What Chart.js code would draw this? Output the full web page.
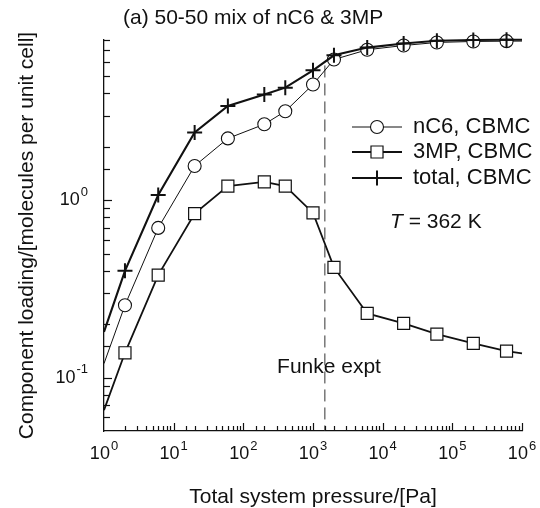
<!DOCTYPE html>
<html>
<head>
<meta charset="utf-8">
<script src="https://cdn.jsdelivr.net/npm/chart.js@4.4.1/dist/chart.umd.min.js"></script>
<style>
  html, body { margin: 0; padding: 0; background: #fff; }
  #wrap { width: 540px; height: 508px; }
</style>
</head>
<body>
<div id="wrap"><canvas id="chart" width="540" height="508"></canvas></div>
<script>
// total system pressure [Pa]; first and last entries only carry the line to the axis ends
const pressures = [1, 2, 6, 20, 60, 200, 400, 1000, 2000, 6000, 2e4, 6e4, 2e5, 6e5, 1e6];
const nC6Loading = [0.120, 0.256, 0.698, 1.56, 2.23, 2.68, 3.17, 4.49, 6.21, 7.05, 7.45, 7.75, 7.85, 7.88, 7.89];
const mp3Loading = [0.0656, 0.138, 0.378, 0.841, 1.20, 1.27, 1.20, 0.848, 0.418, 0.230, 0.202, 0.176, 0.156, 0.141, 0.137];
const totalLoading = [0.181, 0.40, 1.07, 2.41, 3.40, 3.94, 4.31, 5.40, 6.56, 7.25, 7.65, 7.92, 8.0, 8.02, 8.03];

const funkePressure = 1480;
const funkeTop = 5.75;

const xTickExps = [0, 1, 2, 3, 4, 5, 6];
const yTickExps = [-1, 0];
const legendNames = ['nC6, CBMC', '3MP, CBMC', 'total, CBMC'];

const FONT = '"Liberation Sans", Arial, Helvetica, sans-serif';
const last = pressures.length - 1;

function toXY(vals) {
  return pressures.map((p, i) => ({ x: p, y: vals[i] }));
}
function markerRadius(r) {
  return ctx => (ctx.dataIndex === 0 || ctx.dataIndex === last) ? 0 : r;
}

const series = [
  { name: legendNames[2], data: totalLoading, style: 'cross', r: 7.5, lw: 2.1, pw: 2, order: 0 },
  { name: legendNames[0], data: nC6Loading, style: 'circle', r: 6.5, lw: 1, pw: 1.1, order: 1 },
  { name: legendNames[1], data: mp3Loading, style: 'rect', r: 8.5, lw: 1.8, pw: 1.2, order: 2 }
];

const datasets = series.map(s => ({
  label: s.name,
  data: toXY(s.data),
  showLine: true,
  borderColor: '#111',
  borderWidth: s.lw,
  backgroundColor: '#fff',
  pointStyle: s.style,
  pointRadius: markerRadius(s.r),
  pointBorderWidth: s.pw,
  pointBorderColor: '#111',
  pointBackgroundColor: '#fff',
  tension: 0,
  clip: false,
  order: s.order
}));

datasets.push({
  label: 'Funke expt',
  data: [{ x: funkePressure, y: funkeTop }, { x: funkePressure, y: 0.05 }],
  showLine: true,
  borderColor: '#333',
  borderWidth: 1,
  borderDash: [12, 6],
  pointRadius: 0,
  order: 5
});

function drawPow(ctx, x, y, exp, align) {
  ctx.font = '18px ' + FONT;
  const base = '10';
  const wb = ctx.measureText(base).width;
  ctx.font = '13px ' + FONT;
  const e = String(exp);
  const we = ctx.measureText(e).width;
  const w = wb + we + 1;
  let x0 = align === 'right' ? x - w : x - w / 2;
  ctx.textAlign = 'left';
  ctx.textBaseline = 'middle';
  ctx.font = '18px ' + FONT;
  ctx.fillText(base, x0, y);
  ctx.font = '13px ' + FONT;
  ctx.fillText(e, x0 + wb + 1, y - 8);
}

const paperPlugin = {
  id: 'paper',
  afterDraw(chart) {
    const { ctx, chartArea: a, scales: { x, y } } = chart;
    ctx.save();
    ctx.strokeStyle = '#111';
    ctx.fillStyle = '#111';
    ctx.lineWidth = 1.2;

    // inward tick marks
    const isMajor = v => Math.abs(Math.log10(v) - Math.round(Math.log10(v))) < 1e-6;
    x.ticks.forEach(t => {
      const px = Math.round(x.getPixelForValue(t.value)) + 0.5;
      if (px < a.left + 2 || px > a.right + 1) return;
      const len = isMajor(t.value) ? 8 : 5;
      ctx.beginPath();
      ctx.moveTo(px, a.bottom);
      ctx.lineTo(px, a.bottom - len);
      ctx.stroke();
    });
    y.ticks.forEach(t => {
      const py = Math.round(y.getPixelForValue(t.value)) + 0.5;
      if (py > a.bottom - 2 || py < a.top - 1) return;
      const len = isMajor(t.value) ? 8 : 6;
      ctx.beginPath();
      ctx.moveTo(a.left, py);
      ctx.lineTo(a.left + len, py);
      ctx.stroke();
    });

    // tick labels
    xTickExps.forEach(e => drawPow(ctx, x.getPixelForValue(Math.pow(10, e)), a.bottom + 23, e, 'center'));
    yTickExps.forEach(e => drawPow(ctx, a.left - 16, y.getPixelForValue(Math.pow(10, e)), e, 'right'));

    // axis titles
    ctx.font = '21px ' + FONT;
    ctx.textAlign = 'center';
    ctx.textBaseline = 'middle';
    ctx.fillText('Total system pressure/[Pa]', (a.left + a.right) / 2, 497);
    ctx.save();
    ctx.translate(27, (a.top + a.bottom) / 2);
    ctx.rotate(-Math.PI / 2);
    ctx.fillText('Component loading/[molecules per unit cell]', 0, 0);
    ctx.restore();

    // panel title
    ctx.textAlign = 'left';
    ctx.fillText('(a) 50-50 mix of nC6 & 3MP', 123, 18);

    // legend
    const rows = [series[1], series[2], series[0]];
    const rowY = [127, 152, 178];
    rows.forEach((s, i) => {
      const yy = rowY[i];
      ctx.lineWidth = s.lw;
      ctx.beginPath();
      ctx.moveTo(352, yy);
      ctx.lineTo(402, yy);
      ctx.stroke();
      ctx.fillStyle = '#fff';
      ctx.lineWidth = s.pw;
      Chart.helpers.drawPoint(ctx, { pointStyle: s.style, radius: s.r, rotation: 0, borderWidth: s.pw }, 377, yy);
      ctx.fillStyle = '#111';
      ctx.font = '22px ' + FONT;
      ctx.textAlign = 'left';
      ctx.textBaseline = 'middle';
      ctx.fillText(s.name, 413, yy);
    });

    // temperature note
    ctx.font = 'italic 21px ' + FONT;
    ctx.fillText('T', 390, 222);
    const wt = ctx.measureText('T').width;
    ctx.font = '21px ' + FONT;
    ctx.fillText(' = 362 K', 390 + wt, 222);

    // experiment marker label
    ctx.textAlign = 'center';
    ctx.fillText('Funke expt', 329, 367);
    ctx.restore();
  }
};

new Chart(document.getElementById('chart').getContext('2d'), {
  type: 'scatter',
  data: { datasets },
  options: {
    responsive: false,
    animation: false,
    devicePixelRatio: 1,
    layout: { padding: { left: 104, top: 40, right: 18, bottom: 77 } },
    plugins: {
      legend: { display: false },
      tooltip: { enabled: false }
    },
    scales: {
      x: {
        type: 'logarithmic',
        min: 1,
        max: 1e6,
        ticks: { display: false },
        grid: { display: false, drawTicks: false },
        border: { color: '#111', width: 1.3 }
      },
      y: {
        type: 'logarithmic',
        min: 0.05,
        max: 8,
        ticks: { display: false },
        grid: { display: false, drawTicks: false },
        border: { color: '#111', width: 1.3 }
      }
    }
  },
  plugins: [paperPlugin]
});
</script>
</body>
</html>
